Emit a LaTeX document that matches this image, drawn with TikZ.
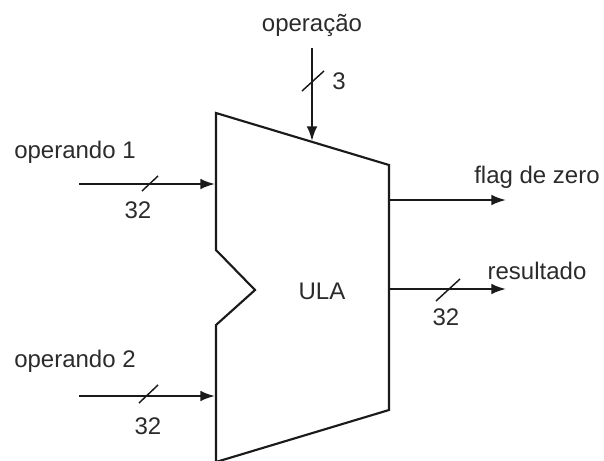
\documentclass[tikz,border=0pt]{standalone}
\usepackage{fontspec}
\setmainfont{Liberation Sans}
\usetikzlibrary{arrows.meta}
\definecolor{ink}{HTML}{1A1A1A}
\definecolor{txt}{HTML}{2B2B2B}
\tikzset{
 wire/.style={draw=ink,line width=1.5pt,-{Latex[length=11pt,width=8pt]}},
 body/.style={draw=ink,line width=1.6pt,line join=miter},
 lab/.style={font=\fontsize{18}{20}\selectfont,text=txt,inner sep=0pt,anchor=base},
 slash/.style={draw=ink,line width=1.1pt}
}
\begin{document}
\begin{tikzpicture}[x=0.75pt,y=-0.75pt]
\useasboundingbox (0,0) rectangle (604,461);
\draw[body] (216,113) -- (389,165) -- (389,410) -- (216,462) -- (216,325) -- (255,290) -- (216,250) -- cycle;
\coordinate (opin) at (312,48);
\coordinate (opout) at (312,141);
\coordinate (a1) at (79,184);
\coordinate (a2) at (215,184);
\coordinate (b1) at (79,396);
\coordinate (b2) at (215,396);
\coordinate (z1) at (389,200);
\coordinate (z2) at (506,200);
\coordinate (r1) at (389,289);
\coordinate (r2) at (506,289);
\draw[wire] (opin) -- (opout);
\draw[wire] (a1) -- (a2);
\draw[wire] (b1) -- (b2);
\draw[wire] (z1) -- (z2);
\draw[wire] (r1) -- (r2);
\draw[slash] (302,91) -- (324,71);
\draw[slash] (142,191) -- (158,176);
\draw[slash] (139,403) -- (158,385);
\draw[slash] (436,301) -- (460,279);
\node[lab] (t1) at (312,31) {operação};
\node[lab] (t2) at (339,89) {3};
\node[lab] (t3) at (75,158) {operando 1};
\node[lab] (t4) at (138,218) {32};
\node[lab] (t5) at (75,367) {operando 2};
\node[lab] (t6) at (148,434) {32};
\node[lab] (t7) at (322,299) {ULA};
\node[lab] (t8) at (537,183) {flag de zero};
\node[lab] (t9) at (537,279) {resultado};
\node[lab] (t10) at (446,325) {32};
\end{tikzpicture}
\end{document}
